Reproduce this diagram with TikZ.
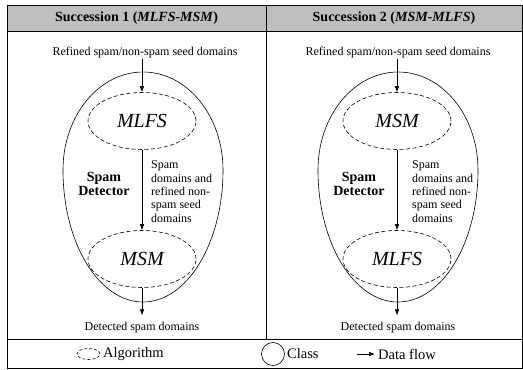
\documentclass[tikz,border=0pt]{standalone}
\usepackage{fontspec}
\setmainfont{Liberation Serif}
\usetikzlibrary{arrows.meta,shapes.geometric}
% egg shaped class outline: centre x, y of widest part
\def\classegg(#1,#2){\draw[line width=0.6pt] ({#1-80},#2) arc[start angle=180,end angle=0,x radius=80,y radius=98] arc[start angle=0,end angle=-180,x radius=80,y radius=132];}

\begin{document}
\begin{tikzpicture}[x=1pt,y=1pt,
	algo/.style={draw,line width=0.6pt,dash pattern=on 4pt off 2.5pt,ellipse,minimum width=108pt,minimum height=57pt,inner sep=0pt,font=\fontsize{20}{24}\selectfont\itshape},
	txt/.style={inner sep=0pt,font=\fontsize{12}{14}\selectfont},
	hdr/.style={inner sep=0pt,font=\fontsize{14}{17}\selectfont\bfseries},
	legtxt/.style={inner sep=0pt,anchor=west,font=\fontsize{14.5}{17}\selectfont},
	flow/.style={-{Latex[length=6pt,width=4.5pt]},line width=0.6pt}]
		%%%%% START %%%%%
		\useasboundingbox (0,0) rectangle (523,370);
		
		% table
		\draw[fill=black!25,line width=0.8pt] (7,339) rectangle (522,365);
		\draw[line width=0.8pt] (7,2) rectangle (522,365);
		\draw[line width=0.8pt] (7,31) -- (522,31);
		\draw[line width=0.8pt] (266,31) -- (266,365);
		\node[hdr] (hdr1) at (136.5,352) {Succession 1 (\textit{MLFS-MSM})};
		\node[hdr] (hdr2) at (394,352) {Succession 2 (\textit{MSM-MLFS})};
		
		% succession 1
		\classegg(143,200)
		\node[txt] (in1) at (145,317) {Refined spam/non-spam seed domains};
		\node[algo] (mlfs1) at (142,249) {MLFS};
		\node[algo] (msm1) at (142,111) {MSM};
		\node[txt] (out1) at (142,42) {Detected spam domains};
		\draw[flow] (in1.south -| mlfs1.north) -- (mlfs1.north);
		\draw[flow] (mlfs1) -- (msm1);
		\draw[flow] (msm1.south) -- ([yshift=7pt]out1.north);
		\node[hdr,align=center,font=\fontsize{14}{14}\selectfont\bfseries] (det1) at (104,186) {Spam\\Detector};
		\node[txt,anchor=west,align=left,font=\fontsize{12}{13.3}\selectfont] (lbl1) at (151,178.5) {Spam\\domains and\\refined non-\\spam seed\\domains};
		
		% succession 2
		\classegg(398,200)
		\node[txt] (in2) at (398,317) {Refined spam/non-spam seed domains};
		\node[algo] (msm2) at (397,249) {MSM};
		\node[algo] (mlfs2) at (397,111) {MLFS};
		\node[txt] (out2) at (398,42) {Detected spam domains};
		\draw[flow] (in2.south -| msm2.north) -- (msm2.north);
		\draw[flow] (msm2) -- (mlfs2);
		\draw[flow] (mlfs2.south) -- ([yshift=7pt]out2.north -| mlfs2.south);
		\node[hdr,align=center,font=\fontsize{14}{14}\selectfont\bfseries] (det2) at (359,186) {Spam\\Detector};
		\node[txt,anchor=west,align=left,font=\fontsize{12}{13.3}\selectfont] (lbl2) at (412,178.5) {Spam\\domains and\\refined non-\\spam seed\\domains};
		
		% legend
		\node[draw,line width=0.6pt,dash pattern=on 3pt off 2pt,ellipse,minimum width=23pt,minimum height=11pt,inner sep=0pt] (legalg) at (88.5,16) {};
		\node[legtxt] (algtxt) at (103,16) {Algorithm};
		\node[draw,line width=0.6pt,circle,minimum size=23pt,inner sep=0pt] (legcls) at (273,16) {};
		\node[legtxt] (clstxt) at (287,16) {Class};
		\coordinate (flowA) at (357,16);
		\node[legtxt] (flowtxt) at (378,16) {Data flow};
		\draw[flow] (flowA) -- ([xshift=-3pt]flowtxt.west);
		%%%%% END %%%%%
\end{tikzpicture}
\end{document}
